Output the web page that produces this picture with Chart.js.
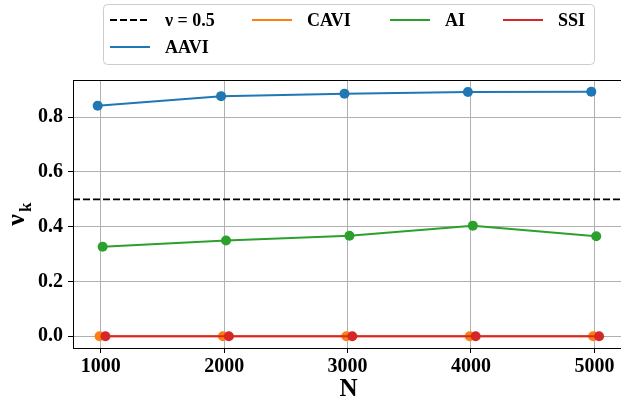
<!DOCTYPE html>
<html>
<head>
<meta charset="utf-8">
<script src="https://cdn.jsdelivr.net/npm/chart.js@4/dist/chart.umd.min.js"></script>
<style>
html,body{margin:0;padding:0;background:#fff;overflow:hidden;}
#wrap{position:relative;width:630px;height:404px;}
</style>
</head>
<body>
<div id="wrap"><canvas id="c"></canvas></div>
<script>
// ---- data ----
const N = [1000, 2000, 3000, 4000, 5000];
const aavi = [0.842, 0.877, 0.886, 0.892, 0.893];
const cavi = [0.0, 0.0, 0.0, 0.0, 0.0];
const ai   = [0.327, 0.350, 0.367, 0.404, 0.365];
const ssi  = [0.0, 0.0, 0.0, 0.0, 0.0];
const nuRef = 0.5;
// small horizontal dodge of each series (in N units)
const aaviShift = -25, caviShift = -10, aiShift = 15, ssiShift = 38;
const xTicks = [1000, 2000, 3000, 4000, 5000];
const yTicks = [0.0, 0.2, 0.4, 0.6, 0.8];
const xLimits = [775, 5240];
const yLimits = [-0.043, 0.936];

const SERIF = '"Liberation Serif", "DejaVu Serif", serif';
const pts = (vals, shift) => vals.map((v, i) => ({x: N[i] + shift, y: v}));

const C = {blue:'#1f77b4', orange:'#ff7f0e', green:'#2ca02c', red:'#d62728'};

function series(label, vals, shift, color, order) {
  return {label, data: pts(vals, shift), borderColor: color, backgroundColor: color,
    borderWidth: 2, pointRadius: 5, pointHoverRadius: 5, pointBorderWidth: 0,
    tension: 0, order};
}

const datasets = [
  {label: 'ν = 0.5', data: [{x: xLimits[0], y: nuRef}, {x: xLimits[1], y: nuRef}],
   borderColor: '#000', backgroundColor: '#000', borderWidth: 1.8, borderDash: [7, 3],
   pointRadius: 0, order: 5},
  series('CAVI', cavi, caviShift, C.orange, 3),
  series('AI', ai, aiShift, C.green, 2),
  series('SSI', ssi, ssiShift, C.red, 1),
  series('AAVI', aavi, aaviShift, C.blue, 0)
];

const frame = {
  id: 'frame',
  afterDatasetsDraw(chart) {
    const {ctx, chartArea: a} = chart;
    ctx.save();
    ctx.strokeStyle = '#000'; ctx.lineWidth = 1;
    ctx.beginPath(); ctx.moveTo(a.left, Math.round(a.top) + 0.5); ctx.lineTo(a.right, Math.round(a.top) + 0.5); ctx.stroke();
    ctx.restore();
  },
  afterDraw(chart) {
    const {ctx} = chart;
    ctx.save();
    // legend box
    ctx.fillStyle = 'rgba(255,255,255,0.8)';
    ctx.strokeStyle = '#cccccc'; ctx.lineWidth = 1;
    ctx.beginPath(); ctx.roundRect(103.5, 4.5, 491, 60, 4); ctx.fill(); ctx.stroke();
    const cols = [110, 252, 390, 503], rows = [20, 47];
    ctx.font = 'bold 18px ' + SERIF;
    ctx.textBaseline = 'middle'; ctx.textAlign = 'left';
    datasets.forEach((ds, i) => {
      const x = cols[i % 4], y = rows[Math.floor(i / 4)];
      ctx.strokeStyle = ds.borderColor; ctx.lineWidth = ds.borderWidth;
      ctx.setLineDash(ds.borderDash || []);
      ctx.beginPath(); ctx.moveTo(x, y); ctx.lineTo(x + 40, y); ctx.stroke();
      ctx.setLineDash([]);
      ctx.fillStyle = '#000';
      ctx.fillText(ds.label, x + 55, y + 1);
    });
    // x title
    ctx.font = 'bold 25px ' + SERIF;
    ctx.textAlign = 'center'; ctx.textBaseline = 'alphabetic';
    ctx.fillText('N', (chart.chartArea.left + chart.chartArea.right) / 2, 396);
    // y title
    ctx.translate(24, 220); ctx.rotate(-Math.PI / 2);
    ctx.font = 'bold 26px ' + SERIF;
    ctx.textAlign = 'center';
    ctx.fillText('ν', 0, 0);
    ctx.font = 'bold 17px ' + SERIF;
    ctx.textAlign = 'left';
    ctx.fillText('k', 8, 7);
    ctx.restore();
  }
};

new Chart(document.getElementById('c'), {
  type: 'line',
  data: {datasets},
  plugins: [frame],
  options: {
    responsive: true, maintainAspectRatio: false, animation: false,
    layout: {padding: {top: 80, left: 0, right: 6, bottom: 0}},
    plugins: {legend: {display: false}, tooltip: {enabled: false}},
    scales: {
      x: {
        type: 'linear', min: xLimits[0], max: xLimits[1],
        afterBuildTicks: s => { s.ticks = xTicks.map(v => ({value: v})); },
        afterFit: s => { s.height = 56; },
        grid: {color: '#b0b0b0', lineWidth: 1, tickColor: '#000', tickLength: 5},
        border: {color: '#000', width: 1},
        ticks: {color: '#000', padding: 2, font: {family: SERIF, size: 20, weight: 'bold'},
                maxRotation: 0, callback: v => String(v)}
      },
      y: {
        min: yLimits[0], max: yLimits[1],
        afterBuildTicks: s => { s.ticks = yTicks.map(v => ({value: v})); },
        afterFit: s => { s.width = 73; },
        grid: {color: '#b0b0b0', lineWidth: 1, tickColor: '#000', tickLength: 5},
        border: {color: '#000', width: 1},
        ticks: {color: '#000', padding: 5, font: {family: SERIF, size: 20, weight: 'bold'},
                callback: v => Number(v).toFixed(1)}
      }
    }
  }
});
</script>
</body>
</html>
